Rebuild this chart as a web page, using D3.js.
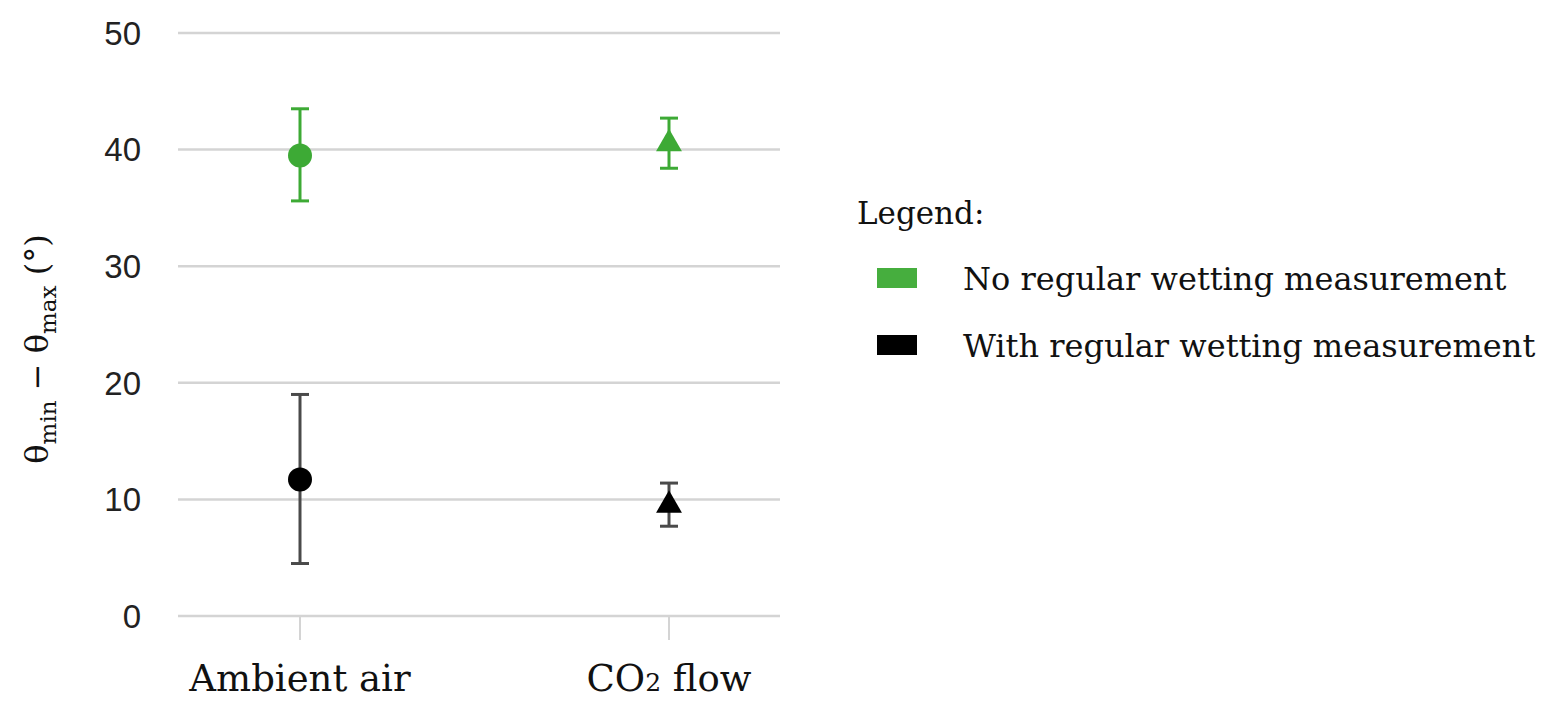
<!DOCTYPE html>
<html>
<head>
<meta charset="utf-8">
<script src="https://cdn.jsdelivr.net/npm/d3@7"></script>
<style>
  body { margin: 0; background: #fff; }
  svg { display: block; }
  .tick-label { font-family: "Liberation Sans", Arial, sans-serif; font-size: 33px; fill: #222; }
  .serif { font-family: "DejaVu Serif", serif; fill: #111; }
</style>
</head>
<body>
<div id="chart"></div>
<script>
'use strict';

// data
var categories = ['Ambient air', 'CO2 flow'];
var yTicks = [0, 10, 20, 30, 40, 50];
var seriesNames = ['No regular wetting measurement', 'With regular wetting measurement'];
var noWettingMean = [39.5, 40.5];
var noWettingLow = [35.6, 38.4];
var noWettingHigh = [43.5, 42.7];
var withWettingMean = [11.7, 9.5];
var withWettingLow = [4.5, 7.7];
var withWettingHigh = [19.0, 11.4];

var width = 1556,
    height = 714,
    plot = { left: 178, right: 780, top: 33, bottom: 616 };

var series = [
    { name: seriesNames[0], mean: noWettingMean, low: noWettingLow, high: noWettingHigh,
      color: '#3daa35', barColor: '#3daa35', swatch: '#46ae3e' },
    { name: seriesNames[1], mean: withWettingMean, low: withWettingLow, high: withWettingHigh,
      color: '#000', barColor: '#4a4a4a', swatch: '#000' }
];

var svg = d3.select('#chart').append('svg')
            .attr('width', width)
            .attr('height', height);

var y = d3.scaleLinear().domain([0, 50]).range([plot.bottom, plot.top]);
var x = d3.scalePoint().domain(categories).range([300, 669]);

// grid lines
svg.append('g').selectAll('line')
   .data(yTicks)
   .enter().append('line')
   .attr('x1', plot.left)
   .attr('x2', plot.right)
   .attr('y1', function (d) { return y(d); })
   .attr('y2', function (d) { return y(d); })
   .attr('stroke', '#d4d4d4')
   .attr('stroke-width', 2.5);

// y tick labels
svg.append('g').selectAll('text')
   .data(yTicks)
   .enter().append('text')
   .attr('class', 'tick-label')
   .attr('x', 141)
   .attr('y', function (d) { return y(d); })
   .attr('dy', '0.36em')
   .attr('text-anchor', 'end')
   .text(function (d) { return d; });

// x tick marks
svg.append('g').selectAll('line')
   .data(categories)
   .enter().append('line')
   .attr('x1', function (d) { return x(d); })
   .attr('x2', function (d) { return x(d); })
   .attr('y1', plot.bottom)
   .attr('y2', plot.bottom + 24)
   .attr('stroke', '#d4d4d4')
   .attr('stroke-width', 2);

// x labels
var xl = svg.append('g').selectAll('text')
   .data(categories)
   .enter().append('text')
   .attr('class', 'serif')
   .attr('x', function (d) { return x(d); })
   .attr('y', 691)
   .attr('text-anchor', 'middle')
   .style('font-size', '37px');

xl.each(function (d) {
    var t = d3.select(this);
    if (d === 'CO2 flow')
    {
        t.append('tspan').text('CO');
        t.append('tspan').style('font-size', '25px').text('2');
        t.append('tspan').text(' flow');
    }
    else
    {
        t.text(d);
    }
});

// y axis title
var yt = svg.append('text')
            .attr('class', 'serif')
            .attr('transform', 'translate(48,349) rotate(-90)')
            .attr('text-anchor', 'middle')
            .style('font-size', '32px');
yt.append('tspan').text('θ');
yt.append('tspan').attr('dy', 8).style('font-size', '23px').text('min');
yt.append('tspan').attr('dy', -8).text(' − θ');
yt.append('tspan').attr('dy', 8).style('font-size', '23px').text('max');
yt.append('tspan').attr('dy', -8).text(' (°)');

// error bars and markers
var triangle = d3.symbol().type(d3.symbolTriangle).size(290);

series.forEach(function (s) {
    var g = svg.append('g');
    var pts = categories.map(function (c, i) {
        return { cat: c, i: i, mean: s.mean[i], low: s.low[i], high: s.high[i] };
    });

    g.selectAll('line.stem').data(pts).enter().append('line')
     .attr('x1', function (d) { return x(d.cat); })
     .attr('x2', function (d) { return x(d.cat); })
     .attr('y1', function (d) { return y(d.low); })
     .attr('y2', function (d) { return y(d.high); })
     .attr('stroke', s.barColor)
     .attr('stroke-width', 3);

    ['low', 'high'].forEach(function (k) {
        g.selectAll('line.cap-' + k).data(pts).enter().append('line')
         .attr('x1', function (d) { return x(d.cat) - 9; })
         .attr('x2', function (d) { return x(d.cat) + 9; })
         .attr('y1', function (d) { return y(d[k]); })
         .attr('y2', function (d) { return y(d[k]); })
         .attr('stroke', s.barColor)
         .attr('stroke-width', 3);
    });

    g.selectAll('circle').data(pts.filter(function (d) { return d.i === 0; }))
     .enter().append('circle')
     .attr('cx', function (d) { return x(d.cat); })
     .attr('cy', function (d) { return y(d.mean); })
     .attr('r', 12)
     .attr('fill', s.color);

    g.selectAll('path').data(pts.filter(function (d) { return d.i === 1; }))
     .enter().append('path')
     .attr('d', triangle)
     .attr('transform', function (d) { return 'translate(' + x(d.cat) + ',' + y(d.mean) + ')'; })
     .attr('fill', s.color);
});

// legend
var legend = svg.append('g');
legend.append('text')
      .attr('class', 'serif')
      .attr('x', 857)
      .attr('y', 224)
      .style('font-size', '31px')
      .text('Legend:');

var items = legend.selectAll('g.item')
      .data(series)
      .enter().append('g')
      .attr('transform', function (d, i) { return 'translate(0,' + (i * 67) + ')'; });

items.append('rect')
     .attr('x', 877)
     .attr('y', 268)
     .attr('width', 40)
     .attr('height', 20)
     .attr('fill', function (d) { return d.swatch; });

items.append('text')
     .attr('class', 'serif')
     .attr('x', 963)
     .attr('y', 290)
     .style('font-size', '32px')
     .text(function (d) { return d.name; });
</script>
</body>
</html>
